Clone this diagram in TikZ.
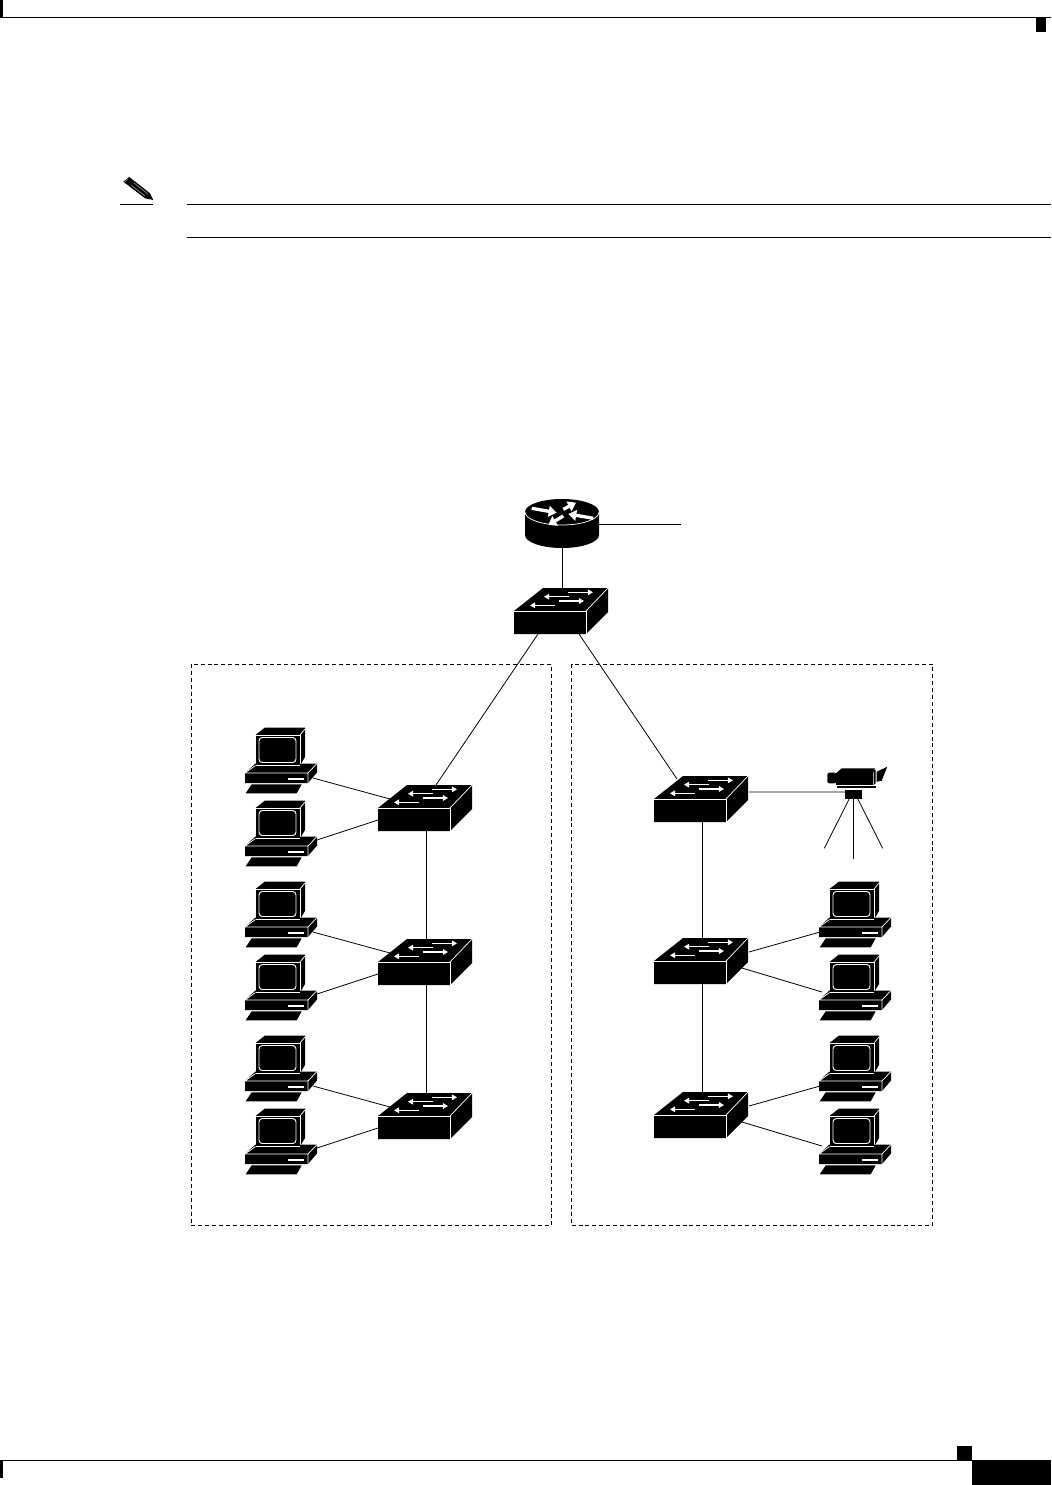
\documentclass[tikz,border=0pt]{standalone}
\usetikzlibrary{arrows.meta,backgrounds}
\tikzset{
  wline/.style={draw=white,line width=0.55pt},
  link/.style={draw=black,line width=0.6pt},
  rule/.style={draw=black,line width=0.75pt},
  zone/.style={draw=black,line width=0.5pt,dash pattern=on 3pt off 2.2pt},
  swarrow/.style={draw=white,line width=0.85pt,-{Triangle[length=3.8pt,width=4.2pt,fill=white]}},
  rtarrow/.style={draw=white,line width=2.5pt,-{Triangle[length=6pt,width=8pt,fill=white]}},
  pics/switch/.style={code={
    \fill[black] (0,0) -- (29,-23) -- (94,-23) -- (94,1) -- (72,23) -- (0,23) -- cycle;
    \draw[wline] (0,0) -- (72,0) -- (72,23);
    \draw[wline] (72,0) -- (94,-23);
    \draw[swarrow] (54,-18.7) -- (79,-18.7);
    \draw[swarrow] (55,-14.3) -- (30,-14.3);
    \draw[swarrow] (45,-10) -- (70,-10);
    \draw[swarrow] (41,-5.7) -- (16,-5.7);
    \coordinate (-up) at (48,-23);
    \coordinate (-dn) at (48,23);
    \coordinate (-ua) at (12,-9);
    \coordinate (-lb) at (0,12);
    \coordinate (-ra) at (95,-9);
    \coordinate (-rb) at (88,7);
    \coordinate (-rc) at (95,-7);
    \coordinate (-dl) at (24,23);
    \coordinate (-dr) at (65,23);
    \coordinate (-tl) at (23,-20);
    \coordinate (-tr) at (58,-23);
  }},
  pics/pc/.style={code={
    % monitor
    \fill[black] (10.5,-1) -- (10.5,-38) -- (20,-45.5) -- (60,-45.5) -- (60,-16) -- (55,-7.5) -- (55,-1) -- cycle;
    \draw[wline] (10.5,-7.5) -- (10.5,-38) -- (55,-38) -- (55,-7.5) -- cycle;
    \draw[wline] (55,-38) -- (60,-44);
    \draw[draw=white,line width=0.7pt,rounded corners=2.5pt] (14,-35.5) rectangle (51,-10.5);
    % base
    \fill[black] (0,0) -- (10.5,-9.5) -- (72,-9.5) -- (72,-0.5) -- (63,10) -- (0,10) -- cycle;
    \draw[wline] (10.5,-7.5) -- (0,0) -- (63,0) -- (63,10);
    \draw[wline] (63,0) -- (72,-9.5);
    \draw[wline] (10.5,-8) -- (55,-8);
    \fill[white] (43,4.5) rectangle (59,7);
    % keyboard
    \fill[black] (0.7,20.3) -- (6.7,11.3) -- (56.7,11.3) -- (51.7,20.3) -- cycle;
    \coordinate (-ra) at (68,5);
    \coordinate (-rb) at (72,-6);
    \coordinate (-la) at (1,5);
    \coordinate (-lb) at (3,-8);
  }},
  pics/router/.style={code={
    \fill[black] (-37,0) -- (-37,23) arc[start angle=180,end angle=360,x radius=27.75pt,y radius=9.75pt]
      -- (37,0) arc[start angle=0,end angle=180,x radius=27.75pt,y radius=9.75pt] -- cycle;
    \draw[wline] (-37,0) arc[start angle=180,end angle=360,x radius=27.75pt,y radius=9.75pt];
    \draw[rtarrow] (-30.3,-3.7) -- (-5.3,0.7);
    \draw[rtarrow] (1.3,-2.7) -- (14,-9.3);
    \draw[rtarrow] (31.3,6.3) -- (6.3,2);
    \draw[rtarrow] (1.3,4) -- (-13.7,13);
    \coordinate (-r) at (37,12);
    \coordinate (-dn) at (0,36);
  }},
  pics/camera/.style={code={
    \fill[black] (0,0) rectangle (36.7,11.7);
    \fill[black] (0,0) -- (5.7,-5) -- (39,-5) -- (36.7,0) -- cycle;
    \fill[black] (37.7,-3.5) -- (39.5,-3.5) -- (39.5,10) -- (37.7,11.7) -- cycle;
    \fill[black,rounded corners=1.5pt] (-8.7,-0.6) rectangle (0.5,10);
    \fill[black] (40.7,-1.6) -- (51.3,-6.6) -- (45.7,7.4) -- (40.7,8.4) -- cycle;
    \fill[black] (0.7,12.7) rectangle (40,14.7);
    \fill[black] (9,16.7) rectangle (26.3,25.4);
    \coordinate (-mt) at (9,18.7);
    \coordinate (-tl) at (13.3,25.4);
    \coordinate (-tc) at (17.3,25.4);
    \coordinate (-tr) at (21.7,25.4);
  }},
  pics/note/.style={code={
    \fill[black] (123.3,181.7) -- (129.3,177) -- (150,193.3) -- (153.3,200) -- (145,198.3) -- cycle;
    \draw[draw=gray,line width=0.6pt] (131,185) -- (145,196);
    \draw[draw=gray,line width=0.6pt] (134,183) -- (148,194);
    \draw[draw=gray,line width=0.5pt] (128,178.5) -- (125,182);
  }},
}
\begin{document}
\begin{tikzpicture}[x=0.75pt,y=-0.75pt]
\useasboundingbox (0,0) rectangle (1051,1485);
\begin{scope}[on background layer]
  \fill[white] (0,0) rectangle (1051,1485);
\end{scope}

% page furniture
\fill[black] (0,0) rectangle (3,17);
\draw[rule] (0,17) -- (1051,17);
\fill[black] (1036,17) rectangle (1046,32);
\fill[black] (0,1460) rectangle (3,1478);
\draw[rule] (0,1460) -- (972,1460);
\fill[black] (957,1446) rectangle (972,1460);
\fill[black] (972,1460) rectangle (1051,1485);
\pic (notemark) at (0,0) {note};
\draw[rule] (120,204.3) -- (152.7,204.3);
\draw[rule] (187,204.3) -- (1051,204.3);
\draw[rule] (187,237.3) -- (1051,237.3);

% dashed zones
\draw[zone] (191,664) rectangle (551.5,1225.5);
\draw[zone] (571.5,664) rectangle (932.5,1225.5);

% devices
\pic (rt) at (562,512) {router};
\pic (root) at (514,611) {switch};
\pic (la) at (378,808) {switch};
\pic (lb) at (378,962) {switch};
\pic (lc) at (378,1116) {switch};
\pic (ra) at (654,799) {switch};
\pic (rb) at (654,961) {switch};
\pic (rc) at (654,1115) {switch};
\pic (p1) at (245,773) {pc};
\pic (p2) at (245,846) {pc};
\pic (p3) at (245,927) {pc};
\pic (p4) at (245,1000) {pc};
\pic (p5) at (245,1081) {pc};
\pic (p6) at (245,1154) {pc};
\pic (q3) at (819,927) {pc};
\pic (q4) at (819,1000) {pc};
\pic (q5) at (819,1081) {pc};
\pic (q6) at (819,1154) {pc};
\pic (cam) at (836,773.3) {camera};
\coordinate (uplink) at (681,524);
\coordinate (legl) at (824.3,848.3);
\coordinate (legc) at (853.3,859);
\coordinate (legr) at (882.7,848.3);

% connectors
\begin{scope}[on background layer,xshift=-0.4]
  \draw[link] (rt-r) -- (uplink);
  \draw[link] (rt-dn) -- (root-up);
  \draw[link] (root-dl) -- (la-tr);
  \draw[link] (root-dr) -- (ra-tl);
  \draw[link] (la-dn) -- (lb-up);
  \draw[link] (lb-dn) -- (lc-up);
  \draw[link] (ra-dn) -- (rb-up);
  \draw[link] (rb-dn) -- (rc-up);
  \draw[link] (p1-ra) -- (la-ua);
  \draw[link] (p2-rb) -- (la-lb);
  \draw[link] (p3-ra) -- (lb-ua);
  \draw[link] (p4-rb) -- (lb-lb);
  \draw[link] (p5-ra) -- (lc-ua);
  \draw[link] (p6-rb) -- (lc-lb);
  \draw[link] (rb-ra) -- (q3-la);
  \draw[link] (rb-rb) -- (q4-lb);
  \draw[link] (rc-ra) -- (q5-la);
  \draw[link] (rc-rb) -- (q6-lb);
  \draw[link] (ra-rc) -- (cam-mt);
  \draw[link] (cam-tl) -- (legl);
  \draw[link] (cam-tc) -- (legc);
  \draw[link] (cam-tr) -- (legr);
\end{scope}
\end{tikzpicture}
\end{document}
